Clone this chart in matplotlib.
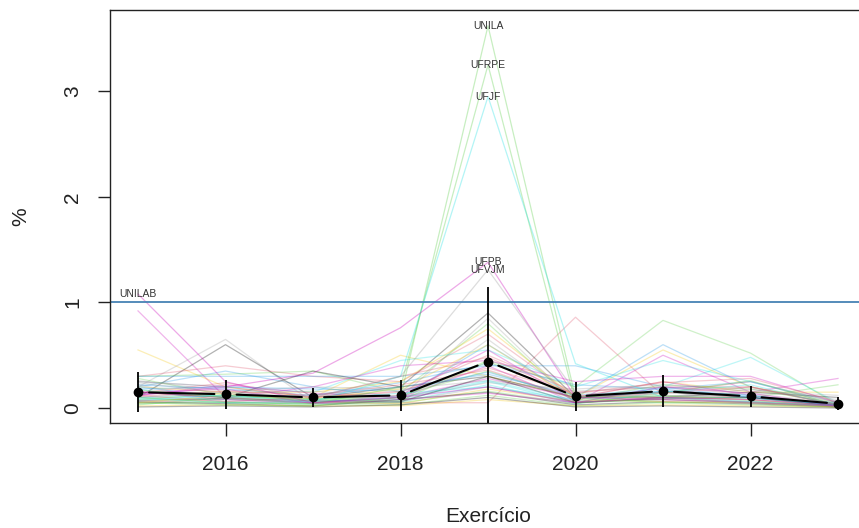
import matplotlib
matplotlib.use("Agg")
import matplotlib.pyplot as plt

plt.rcParams["font.family"] = ["Liberation Sans", "DejaVu Sans"]

anos = [2015, 2016, 2017, 2018, 2019, 2020, 2021, 2022, 2023]

# universidades destacadas no grafico
unila = [0.05, 0.03, 0.02, 0.10, 3.62, 0.10, 0.05, 0.03, 0.01]
ufrpe = [0.10, 0.05, 0.04, 0.20, 3.25, 0.05, 0.08, 0.05, 0.02]
ufjf = [0.08, 0.12, 0.06, 0.30, 2.95, 0.42, 0.10, 0.06, 0.02]
ufpb = [0.12, 0.20, 0.33, 0.76, 1.38, 0.10, 0.08, 0.05, 0.02]
ufvjm = [0.10, 0.15, 0.10, 0.30, 1.31, 0.15, 0.10, 0.05, 0.02]
unilab = [1.08, 0.25, 0.05, 0.10, 0.20, 0.05, 0.10, 0.08, 0.02]

destaques = ["UNILA", "UFRPE", "UFJF", "UFPB", "UFVJM", "UNILAB"]
destaques_series = [unila, ufrpe, ufjf, ufpb, ufvjm, unilab]
destaques_cores = ["#61D04F", "#61D04F", "#28E2E5", "#CD0BBC", "#9E9E9E", "#CD0BBC"]
destaques_ano = [2019, 2019, 2019, 2019, 2019, 2015]

# demais universidades (estimadas do grafico)
outras = [
    [0.05, 0.08, 0.05, 0.05, 0.05, 0.86, 0.12, 0.10, 0.03],
    [0.15, 0.10, 0.08, 0.10, 0.45, 0.20, 0.83, 0.52, 0.03],
    [0.20, 0.35, 0.20, 0.10, 0.60, 0.10, 0.60, 0.20, 0.03],
    [0.10, 0.08, 0.06, 0.08, 0.25, 0.05, 0.20, 0.48, 0.05],
    [0.92, 0.10, 0.05, 0.10, 0.40, 0.05, 0.50, 0.15, 0.28],
    [0.55, 0.20, 0.10, 0.50, 0.30, 0.10, 0.55, 0.20, 0.05],
    [0.20, 0.65, 0.05, 0.10, 0.85, 0.05, 0.10, 0.20, 0.03],
    [0.10, 0.60, 0.10, 0.20, 0.90, 0.10, 0.15, 0.10, 0.02],
    [0.30, 0.40, 0.30, 0.25, 0.70, 0.10, 0.15, 0.25, 0.05],
    [0.30, 0.32, 0.35, 0.15, 0.80, 0.05, 0.10, 0.10, 0.22],
    [0.30, 0.30, 0.30, 0.30, 0.40, 0.40, 0.20, 0.10, 0.05],
    [0.25, 0.20, 0.15, 0.45, 0.55, 0.20, 0.45, 0.25, 0.05],
    [0.15, 0.10, 0.20, 0.40, 0.45, 0.25, 0.30, 0.30, 0.05],
    [0.20, 0.15, 0.15, 0.25, 0.75, 0.10, 0.25, 0.15, 0.15],
    [0.05, 0.05, 0.05, 0.05, 0.65, 0.05, 0.10, 0.05, 0.02],
    [0.15, 0.10, 0.35, 0.20, 0.30, 0.10, 0.10, 0.15, 0.10],
    [0.25, 0.20, 0.10, 0.15, 0.50, 0.15, 0.20, 0.20, 0.02],
    [0.28, 0.12, 0.08, 0.12, 0.35, 0.08, 0.22, 0.18, 0.04],
    [0.22, 0.18, 0.12, 0.20, 0.32, 0.12, 0.18, 0.25, 0.03],
    [0.18, 0.05, 0.04, 0.06, 0.22, 0.04, 0.15, 0.22, 0.02],
    [0.12, 0.22, 0.14, 0.10, 0.28, 0.10, 0.25, 0.12, 0.03],
    [0.08, 0.14, 0.06, 0.04, 0.18, 0.06, 0.12, 0.08, 0.01],
    [0.26, 0.16, 0.20, 0.18, 0.26, 0.16, 0.20, 0.14, 0.04],
    [0.06, 0.04, 0.02, 0.08, 0.15, 0.03, 0.06, 0.04, 0.01],
    [0.14, 0.24, 0.10, 0.16, 0.38, 0.14, 0.24, 0.28, 0.06],
    [0.04, 0.06, 0.03, 0.03, 0.12, 0.02, 0.05, 0.06, 0.02],
    [0.20, 0.10, 0.12, 0.24, 0.42, 0.22, 0.18, 0.10, 0.03],
    [0.10, 0.12, 0.08, 0.14, 0.20, 0.08, 0.16, 0.12, 0.02],
    [0.16, 0.08, 0.05, 0.12, 0.55, 0.06, 0.08, 0.06, 0.01],
    [0.02, 0.03, 0.02, 0.02, 0.08, 0.02, 0.03, 0.02, 0.01],
    [0.24, 0.14, 0.16, 0.10, 0.24, 0.18, 0.22, 0.16, 0.12],
    [0.07, 0.09, 0.07, 0.06, 0.30, 0.05, 0.09, 0.10, 0.02],
    [0.12, 0.06, 0.10, 0.30, 0.48, 0.12, 0.10, 0.08, 0.03],
    [0.03, 0.10, 0.04, 0.05, 0.16, 0.04, 0.14, 0.26, 0.02],
    [0.18, 0.20, 0.18, 0.16, 0.34, 0.10, 0.16, 0.12, 0.02],
    [0.09, 0.05, 0.06, 0.10, 0.26, 0.07, 0.12, 0.09, 0.03],
    [0.14, 0.18, 0.04, 0.08, 0.14, 0.05, 0.20, 0.14, 0.02],
    [0.05, 0.12, 0.09, 0.18, 0.60, 0.08, 0.06, 0.05, 0.01],
    [0.22, 0.06, 0.05, 0.06, 0.20, 0.06, 0.08, 0.18, 0.08],
    [0.01, 0.02, 0.01, 0.03, 0.10, 0.01, 0.02, 0.01, 0.00],
    [0.11, 0.16, 0.12, 0.22, 0.36, 0.09, 0.14, 0.20, 0.03],
    [0.17, 0.11, 0.09, 0.07, 0.44, 0.11, 0.11, 0.07, 0.02],
]

# media e desvio padrao por exercicio
media = [0.15, 0.13, 0.10, 0.12, 0.44, 0.11, 0.16, 0.11, 0.04]
desvio = [0.19, 0.14, 0.09, 0.15, 0.71, 0.14, 0.15, 0.10, 0.06]

paleta = ["black", "#DF536B", "#61D04F", "#2297E6", "#28E2E5", "#CD0BBC", "#F5C710", "#9E9E9E"]

fig = plt.figure(figsize=(8.59, 5.28), dpi=100)
ax = fig.add_axes([110 / 859, 105 / 528, 756 / 859, 413 / 528])

for i, serie in enumerate(outras):
    ax.plot(anos, serie, color=paleta[(i + 1) % len(paleta)], alpha=0.3, lw=0.9)

for serie, cor in zip(destaques_series, destaques_cores):
    ax.plot(anos, serie, color=cor, alpha=0.35, lw=0.9)

ax.axhline(1, color="#4682B4", lw=1.3)

for nome, serie, ano in zip(destaques, destaques_series, destaques_ano):
    ax.text(ano, serie[anos.index(ano)], nome, ha="center", va="center",
            fontsize=7.5, color="#333333")

# barras de erro (media +- dp)
for ano, m, d in zip(anos, media, desvio):
    ax.plot([ano, ano], [m - d, m + d], color="black", lw=1.3, solid_capstyle="butt")

# linha da media com intervalos (type = "b")
for k in range(len(anos) - 1):
    ax.annotate("", xy=(anos[k + 1], media[k + 1]), xytext=(anos[k], media[k]),
                arrowprops=dict(arrowstyle="-", color="black", lw=1.5,
                                shrinkA=8, shrinkB=8))
ax.plot(anos, media, "o", color="black", markersize=6)

ax.set_xlim(2015 - 0.32, 2023 + 0.32)
ax.set_ylim(-0.142, 3.77)

ax.set_xticks([2016, 2018, 2020, 2022])
ax.set_yticks([0, 1, 2, 3])
ax.set_yticklabels(["0", "1", "2", "3"], rotation=90, va="center")
ax.tick_params(axis="both", labelsize=15, length=9, width=1, colors="#222222",
               labelcolor="#222222")
ax.tick_params(axis="x", pad=14)
ax.tick_params(axis="y", pad=11)

for lado in ["top", "left", "bottom"]:
    ax.spines[lado].set_color("#222222")
    ax.spines[lado].set_linewidth(1)
ax.spines["right"].set_visible(False)

ax.set_xlabel("Exercício", fontsize=15, labelpad=24, color="#222222")
ax.set_ylabel("%", fontsize=15, labelpad=24, color="#222222")

fig.savefig("out.png", dpi=100)
